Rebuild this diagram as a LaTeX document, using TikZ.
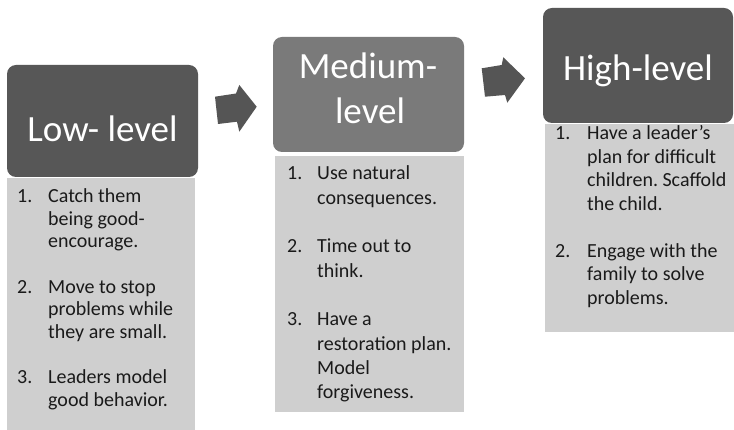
\documentclass[tikz,border=0pt]{standalone}
\usepackage{fontspec}
\setmainfont{Carlito}
\frenchspacing
\definecolor{hdark}{HTML}{575757}
\definecolor{hmid}{HTML}{7A7A7A}
\definecolor{bodyfill}{HTML}{CFCFCF}
\definecolor{arrfill}{HTML}{555555}
\definecolor{txtcol}{HTML}{1A1A1A}
\tikzset{
  hdr/.style={rectangle, rounded corners=9pt, inner sep=0pt, draw=none},
  bodybox/.style={rectangle, fill=bodyfill, inner sep=0pt, draw=none},
  hdrtext/.style={inner sep=0pt, text=white, font=\fontsize{37}{45}\selectfont},
  bodytext/.style={inner sep=0pt, text=txtcol, anchor=base west},
  blockarrow/.style={fill=arrfill, draw=none}
}
\newcommand{\bodyfnt}[1]{\fontsize{20}{#1}\selectfont\frenchspacing}
\begin{document}
\begin{tikzpicture}[x=1pt,y=-1pt]
\useasboundingbox (0,0) rectangle (734,430);
\fill[white] (0,0) rectangle (734,430);

% headers
\node[hdr, fill=hdark, minimum width=191pt, minimum height=112pt] (low) at (102.5,121) {};
\node[hdr, fill=hmid, minimum width=191pt, minimum height=115pt] (med) at (368.5,94.5) {};
\node[hdr, fill=hdark, minimum width=190pt, minimum height=115pt] (high) at (638,65.5) {};

% body boxes
\node[bodybox, minimum width=188pt, minimum height=252pt] (lowbody) at (101,304) {};
\node[bodybox, minimum width=189pt, minimum height=256pt] (medbody) at (369.5,284) {};
\node[bodybox, minimum width=189pt, minimum height=208pt] (highbody) at (639.5,228) {};

% header texts
\node[hdrtext, anchor=base] (lowt) at (102.5,141.7) {Low- level};
\node[hdrtext, anchor=base] (medt1) at (368,78.3) {Medium-};
\node[hdrtext, anchor=base] (medt2) at (370,123.3) {level};
\node[hdrtext, anchor=base] (hight) at (638,80.5) {High-level};

% block arrows
\path[blockarrow] (215,96.7) -- (236,93.5) -- (239.3,85) -- (256.7,106.7) -- (239.3,131.7) -- (237,121.7) -- (218,124) -- cycle;
\path[blockarrow] (481.7,68.3) -- (501.7,65) -- (503.3,57.3) -- (525,78.3) -- (507.3,102.7) -- (505,95) -- (485,96.7) -- cycle;

% body texts
\node[bodytext] (lowlist) at (17,202.7) {\bodyfnt{22.6}%
\begin{tabular}[t]{@{}p{31pt}@{}l@{}}
1. & Catch them\\
   & being good-\\
   & encourage.\\
   & \\
2. & Move to stop\\
   & problems while\\
   & they are small.\\
   & \\
3. & Leaders model\\
   & good behavior.
\end{tabular}};

\node[bodytext] (medlist) at (287,180) {\bodyfnt{24.3}%
\begin{tabular}[t]{@{}p{30pt}@{}l@{}}
1. & Use natural\\
   & consequences.\\
   & \\
2. & Time out to\\
   & think.\\
   & \\
3. & Have a\\
   & restoration plan.\\
   & Model\\
   & forgiveness.
\end{tabular}};

\node[bodytext] (highlist) at (555,140) {\bodyfnt{23.5}%
\begin{tabular}[t]{@{}p{32pt}@{}l@{}}
1. & Have a leader’s\\
   & plan for difficult\\
   & children. Scaffold\\
   & the child.\\
   & \\
2. & Engage with the\\
   & family to solve\\
   & problems.
\end{tabular}};
\end{tikzpicture}
\end{document}
